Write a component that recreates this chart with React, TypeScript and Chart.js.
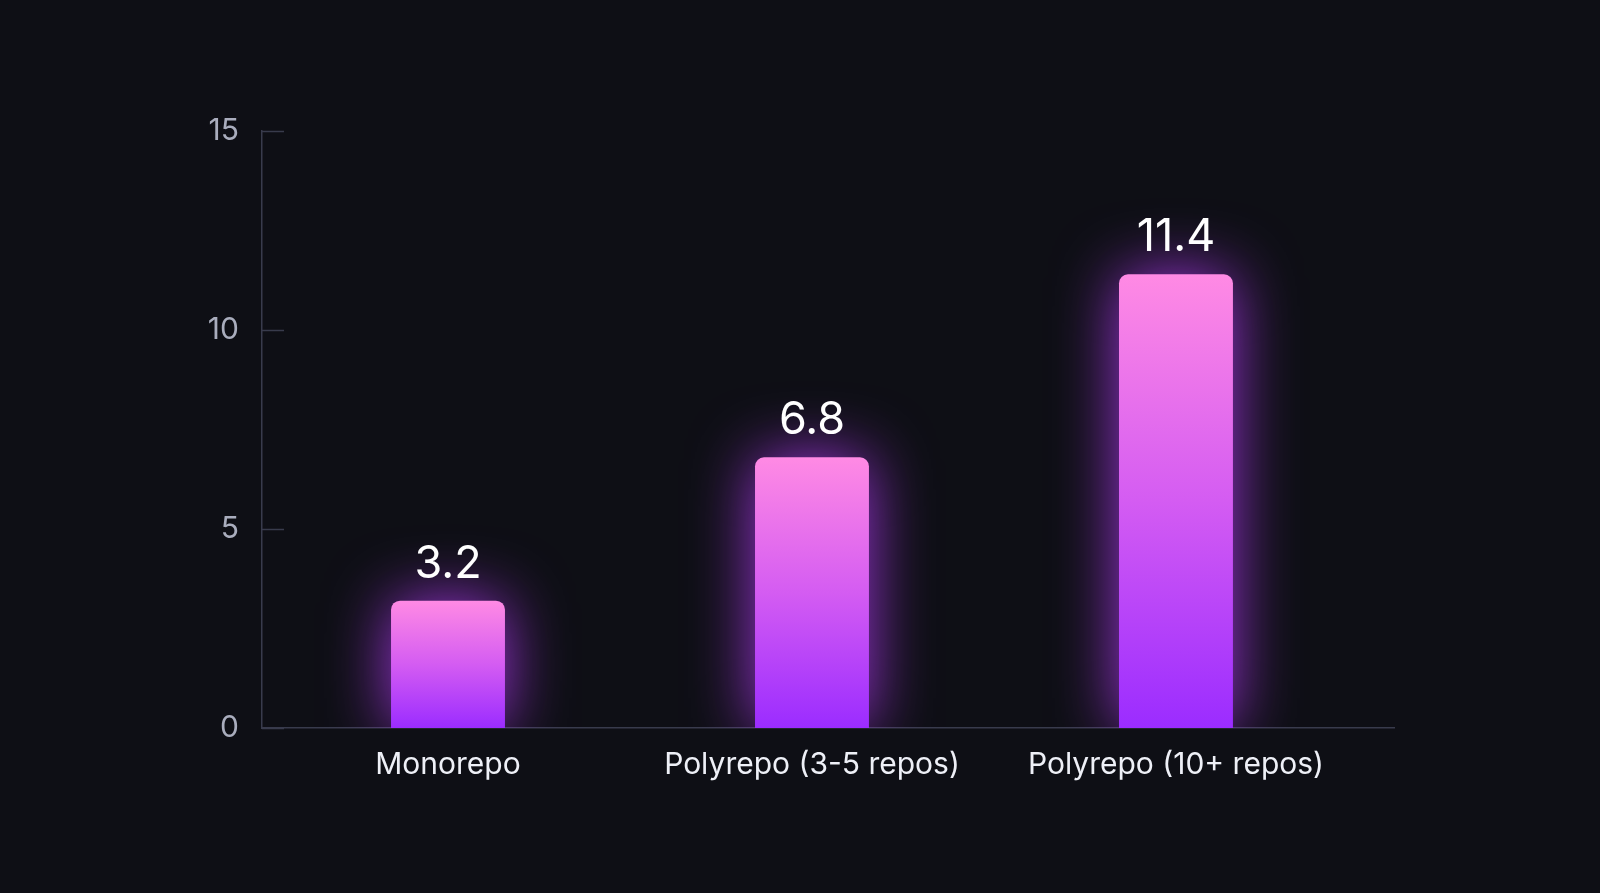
import { useEffect, useRef } from "react";
import { Chart, registerables } from "chart.js";

Chart.register(...registerables);

const categories = ["Monorepo", "Polyrepo (3-5 repos)", "Polyrepo (10+ repos)"];
const values = [3.2, 6.8, 11.4];
const yTicks = [0, 5, 10, 15];

const FONT = "Inter, 'Noto Sans', sans-serif";

// bar glow: shadow around each bar
const glowPlugin = {
  id: "glow",
  beforeDatasetDraw(chart: any) {
    const ctx = chart.ctx;
    ctx.save();
    ctx.shadowColor = "rgba(185, 60, 255, 0.85)";
    ctx.shadowBlur = 64;
  },
  afterDatasetDraw(chart: any) {
    chart.ctx.restore();
  },
};

// short tick marks drawn inside the plot, value labels above bars
const decoPlugin = {
  id: "deco",
  afterDraw(chart: any) {
    const { ctx, chartArea, scales } = chart;
    ctx.save();
    ctx.strokeStyle = "#383b4c";
    ctx.lineWidth = 1.5;
    yTicks.forEach((t) => {
      const y = Math.round(scales.y.getPixelForValue(t)) + 0.5;
      ctx.beginPath();
      ctx.moveTo(chartArea.left, y);
      ctx.lineTo(chartArea.left + 22, y);
      ctx.stroke();
    });

    const meta = chart.getDatasetMeta(0);
    ctx.fillStyle = "#ffffff";
    ctx.font = `400 45px ${FONT}`;
    ctx.textAlign = "center";
    ctx.textBaseline = "alphabetic";
    meta.data.forEach((bar: any, i: number) => {
      ctx.fillText(String(values[i]), bar.x, bar.y - 23);
    });
    ctx.restore();
  },
};

function barGradient(c: any) {
  const { chart, dataIndex } = c;
  const { ctx, scales, chartArea } = chart;
  if (!chartArea || !scales.y || dataIndex === undefined) return "#b040ff";
  const top = scales.y.getPixelForValue(values[dataIndex]);
  const bottom = scales.y.getPixelForValue(0);
  if (!isFinite(top) || !isFinite(bottom) || top === bottom) return "#b040ff";
  const g = ctx.createLinearGradient(0, top, 0, bottom);
  g.addColorStop(0, "#ff8ae4");
  g.addColorStop(0.5, "#d45cf2");
  g.addColorStop(1, "#9b2cff");
  return g;
}

function BarChart() {
  const canvasRef = useRef<HTMLCanvasElement>(null);

  useEffect(() => {
    if (!canvasRef.current) return;
    const chart = new Chart(canvasRef.current, {
      type: "bar",
      data: {
        datasets: [
          {
            data: values.map((v, i) => ({ x: i, y: v })),
            backgroundColor: barGradient,
            borderRadius: { topLeft: 9, topRight: 9, bottomLeft: 0, bottomRight: 0 },
            borderSkipped: false,
            categoryPercentage: 1,
            barPercentage: 0.313,
          },
        ],
      },
      options: {
        animation: false,
        responsive: true,
        maintainAspectRatio: false,
        layout: { padding: { left: 0, right: 206, top: 131, bottom: 0 } },
        plugins: {
          legend: { display: false },
          tooltip: { enabled: false },
        },
        scales: {
          x: {
            type: "linear",
            offset: false,
            min: -0.511,
            max: 2.599,
            afterBuildTicks: (scale: any) => {
              scale.ticks = categories.map((_, i) => ({ value: i }));
            },
            afterFit: (scale: any) => {
              scale.height = 165;
            },
            grid: { display: false, drawTicks: false, offset: false },
            border: { display: true, color: "#383b4c", width: 1.5 },
            ticks: {
              padding: 19,
              color: "#eef0f7",
              font: { family: FONT, size: 30 },
              maxRotation: 0,
              autoSkip: false,
              callback: (v: any) => categories[v] ?? "",
            },
          },
          y: {
            min: 0,
            max: 15,
            afterBuildTicks: (scale: any) => {
              scale.ticks = yTicks.map((v) => ({ value: v }));
            },
            afterFit: (scale: any) => {
              scale.width = 262;
            },
            grid: { display: false, drawTicks: false },
            border: { display: true, color: "#383b4c", width: 1.5 },
            ticks: {
              padding: 23,
              color: "#a9adbd",
              font: { family: FONT, size: 30 },
            },
          },
        },
      },
      plugins: [glowPlugin, decoPlugin],
    });

    return () => chart.destroy();
  }, []);

  return (
    <div style={{ position: "relative", width: "100%", height: "100%" }}>
      <canvas ref={canvasRef} />
    </div>
  );
}

export default function App() {
  useEffect(() => {
    document.body.style.margin = "0";
    document.body.style.background = "#0e0f15";
  }, []);
  return (
    <div style={{ width: "100vw", height: "100vh", background: "#0e0f15", overflow: "hidden" }}>
      <BarChart />
    </div>
  );
}
